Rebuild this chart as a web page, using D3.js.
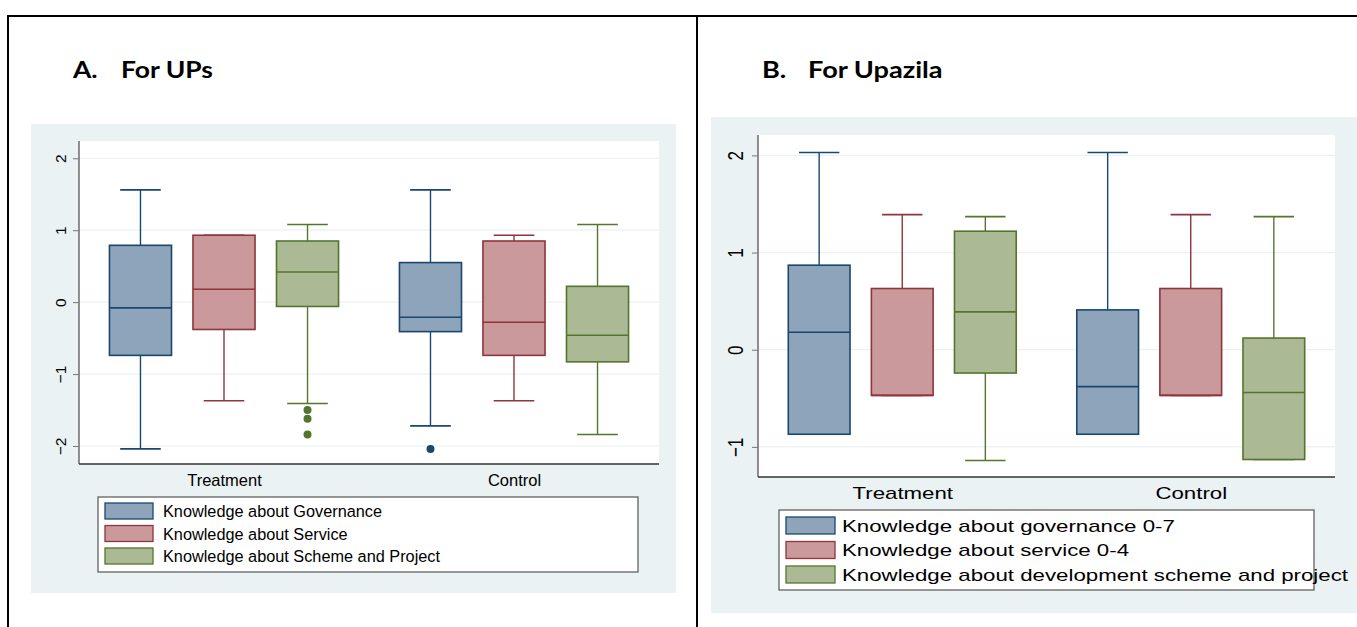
<!DOCTYPE html>
<html>
<head>
<meta charset="utf-8">
<script src="https://cdn.jsdelivr.net/npm/d3@7"></script>
<style>
  html, body { margin: 0; padding: 0; background: #fff; }
  svg { display: block; }
</style>
</head>
<body>
<svg id="chart" width="1357" height="627"></svg>
<script>
// ---- data ----
const groups = ["Treatment", "Control"];

// Panel A: Union Parishads
const upSeries = ["Knowledge about Governance", "Knowledge about Service", "Knowledge about Scheme and Project"];
const upYTicks = [-2, -1, 0, 1, 2];
// [lower whisker, q1, median, q3, upper whisker] per group
const upGovernance = [[-2.04, -0.74, -0.08, 0.79, 1.56], [-1.72, -0.41, -0.21, 0.55, 1.56]];
const upService    = [[-1.37, -0.38, 0.18, 0.93, 0.93], [-1.37, -0.74, -0.28, 0.85, 0.93]];
const upScheme     = [[-1.41, -0.06, 0.42, 0.85, 1.08], [-1.84, -0.83, -0.46, 0.22, 1.08]];
const upOutliers   = [
  { series: 2, group: 0, values: [-1.50, -1.62, -1.84] },
  { series: 0, group: 1, values: [-2.04] }
];

// Panel B: Upazila
const uzSeries = ["Knowledge about governance 0-7", "Knowledge about service 0-4", "Knowledge about development scheme and project"];
const uzYTicks = [-1, 0, 1, 2];
const uzGovernance  = [[-0.87, -0.87, 0.18, 0.87, 2.03], [-0.87, -0.87, -0.38, 0.41, 2.03]];
const uzService     = [[-0.47, -0.47, -0.47, 0.63, 1.39], [-0.47, -0.47, -0.47, 0.63, 1.39]];
const uzDevelopment = [[-1.14, -0.24, 0.39, 1.22, 1.37], [-1.13, -1.13, -0.44, 0.12, 1.37]];

// Stata s2color-style fills and outlines
const fills   = ["#8da4ba", "#c9999c", "#abba95"];
const strokes = ["#1a476f", "#90353b", "#55752f"];

const FONT = "'Liberation Sans', Arial, sans-serif";
const svg = d3.select("#chart");

// frame lines of the two-column layout
svg.append("line").attr("x1", 7).attr("x2", 1357).attr("y1", 16).attr("y2", 16)
  .attr("stroke", "#000").attr("stroke-width", 2);
svg.append("line").attr("x1", 8).attr("x2", 8).attr("y1", 15).attr("y2", 627)
  .attr("stroke", "#000").attr("stroke-width", 2);
svg.append("line").attr("x1", 697).attr("x2", 697).attr("y1", 15).attr("y2", 627)
  .attr("stroke", "#000").attr("stroke-width", 2);

// place a text at (x, y), widened horizontally by factor s, optionally rotated
function placeText(sel, x, y, s, rot) {
  sel.attr("x", 0).attr("y", 0)
    .attr("transform", `translate(${x},${y}) scale(${s},1)` + (rot ? ` rotate(${rot})` : ""));
}

function drawPanel(cfg) {
  const g = svg.append("g");
  const s = cfg.stretch;

  // heading
  [[cfg.titleLetter, cfg.titleX], [cfg.titleText, cfg.titleX2]].forEach(([t, tx]) => {
    g.append("text")
      .attr("font-family", "Lato, 'Open Sans', sans-serif")
      .attr("font-weight", "bold").attr("font-size", cfg.titleSize).attr("fill", "#000")
      .text(t)
      .call(placeText, tx, cfg.titleY, cfg.titleStretch);
  });

  // graph region background
  g.append("rect").attr("x", cfg.bg[0]).attr("y", cfg.bg[1])
    .attr("width", cfg.bg[2] - cfg.bg[0]).attr("height", cfg.bg[3] - cfg.bg[1])
    .attr("fill", "#eaf2f3");

  const p = cfg.plot;
  const w = p.right - p.left, h = p.bottom - p.top;
  g.append("rect").attr("x", p.left).attr("y", p.top).attr("width", w).attr("height", h)
    .attr("fill", "#fff");

  const y = d3.scaleLinear().domain(cfg.yDomain).range([p.bottom, p.top]);
  const x = d3.scalePoint().domain(groups).range([p.left, p.right]).padding(0.5);
  const inner = d3.scalePoint().domain(d3.range(cfg.series.length))
    .range([-0.144 * w, 0.144 * w]);
  const boxW = 0.107 * w, capW = 0.07 * w;

  // grid lines
  g.append("g").selectAll("line").data(cfg.ticks).join("line")
    .attr("x1", p.left).attr("x2", p.right)
    .attr("y1", d => y(d)).attr("y2", d => y(d))
    .attr("stroke", "#eaf2f3").attr("stroke-width", 1.2);

  // y axis
  const yAxis = g.append("g").attr("transform", `translate(${p.left},0)`)
    .call(d3.axisLeft(y).tickValues(cfg.ticks).tickSize(cfg.tickLen).tickFormat(d3.format("d")));
  yAxis.select(".domain").attr("d", `M0,${p.top}V${p.bottom}`).attr("stroke", "#555").attr("stroke-width", 1.3);
  yAxis.selectAll(".tick line").attr("stroke", "#777").attr("stroke-width", 1);
  yAxis.selectAll(".tick text")
    .attr("font-family", FONT)
    .attr("font-size", cfg.tickFont).attr("fill", "#000")
    .attr("dy", 0)
    .attr("text-anchor", "middle")
    .attr("dominant-baseline", "central")
    .each(function () { placeText(d3.select(this), -cfg.labelOffset, 0, s, -90); });

  // x axis
  const xAxis = g.append("g").attr("transform", `translate(0,${p.bottom})`)
    .call(d3.axisBottom(x).tickSize(0));
  xAxis.select(".domain").attr("d", `M${p.left},0H${p.right}`).attr("stroke", "#333").attr("stroke-width", 1.5);
  xAxis.selectAll(".tick text")
    .attr("font-family", FONT)
    .attr("font-size", cfg.catFont).attr("fill", "#000")
    .attr("dy", 0)
    .each(function () { placeText(d3.select(this), 0, cfg.catOffset, s); });

  // boxes
  cfg.values.forEach((series, si) => {
    series.forEach((st, gi) => {
      const cx = x(groups[gi]) + inner(si);
      const [lo, q1, med, q3, hi] = st;
      const bg = g.append("g");
      // whiskers
      bg.append("line").attr("x1", cx).attr("x2", cx).attr("y1", y(q3)).attr("y2", y(hi))
        .attr("stroke", strokes[si]).attr("stroke-width", 1.4);
      bg.append("line").attr("x1", cx).attr("x2", cx).attr("y1", y(q1)).attr("y2", y(lo))
        .attr("stroke", strokes[si]).attr("stroke-width", 1.4);
      [lo, hi].forEach(v => {
        bg.append("line").attr("x1", cx - capW / 2).attr("x2", cx + capW / 2)
          .attr("y1", y(v)).attr("y2", y(v))
          .attr("stroke", strokes[si]).attr("stroke-width", 1.6);
      });
      // box
      bg.append("rect").attr("x", cx - boxW / 2).attr("y", y(q3))
        .attr("width", boxW).attr("height", y(q1) - y(q3))
        .attr("fill", fills[si]).attr("stroke", strokes[si]).attr("stroke-width", 1.6);
      // median
      bg.append("line").attr("x1", cx - boxW / 2).attr("x2", cx + boxW / 2)
        .attr("y1", y(med)).attr("y2", y(med))
        .attr("stroke", strokes[si]).attr("stroke-width", 1.6);
    });
  });

  // outside values
  (cfg.outliers || []).forEach(o => {
    const cx = x(groups[o.group]) + inner(o.series);
    g.append("g").selectAll("circle").data(o.values).join("circle")
      .attr("cx", cx).attr("cy", d => y(d)).attr("r", cfg.dotR)
      .attr("fill", strokes[o.series]);
  });

  // legend
  const L = cfg.legend;
  g.append("rect").attr("x", L.x).attr("y", L.y).attr("width", L.w).attr("height", L.h)
    .attr("fill", "#fff").attr("stroke", "#555").attr("stroke-width", 1.2);
  cfg.series.forEach((name, i) => {
    const ry = L.y + L.pad + i * L.rowH;
    g.append("rect").attr("x", L.x + 7).attr("y", ry)
      .attr("width", L.swW).attr("height", L.swH)
      .attr("fill", fills[i]).attr("stroke", strokes[i]).attr("stroke-width", 1.3);
    g.append("text")
      .attr("dominant-baseline", "central")
      .attr("font-family", FONT)
      .attr("font-size", L.font).attr("fill", "#000").text(name)
      .call(placeText, L.textX, ry + L.swH / 2, s);
  });
}

drawPanel({
  titleLetter: "A.", titleText: "For UPs", titleX: 73, titleX2: 121, titleY: 78,
  titleSize: 23, titleStretch: 1.15,
  stretch: 1,
  bg: [31, 124, 676, 593],
  plot: { left: 79, right: 659, top: 141, bottom: 464 },
  yDomain: [-2.25, 2.24],
  ticks: upYTicks, tickLen: 6, tickFont: 15.5, labelOffset: 19,
  catFont: 16.5, catOffset: 22,
  series: upSeries,
  values: [upGovernance, upService, upScheme],
  outliers: upOutliers, dotR: 4,
  legend: { x: 98, y: 497, w: 540, h: 75, pad: 6, rowH: 22.5, swW: 48, swH: 16, textX: 163, font: 16.3 }
});

drawPanel({
  titleLetter: "B.", titleText: "For Upazila", titleX: 762, titleX2: 808, titleY: 78,
  titleSize: 23, titleStretch: 1.18,
  stretch: 1.31,
  bg: [711, 117, 1357, 613],
  plot: { left: 758, right: 1335, top: 135, bottom: 477 },
  yDomain: [-1.31, 2.21],
  ticks: uzYTicks, tickLen: 6, tickFont: 17, labelOffset: 23,
  catFont: 17, catOffset: 22,
  series: uzSeries,
  values: [uzGovernance, uzService, uzDevelopment],
  outliers: [], dotR: 4,
  legend: { x: 779, y: 510, w: 535, h: 80, pad: 7, rowH: 24.5, swW: 49, swH: 17, textX: 842, font: 17 }
});
</script>
</body>
</html>
